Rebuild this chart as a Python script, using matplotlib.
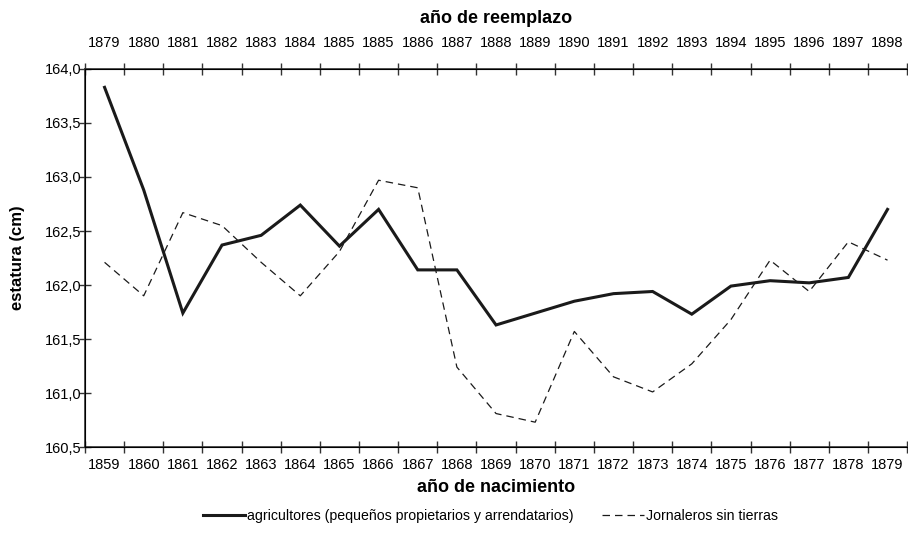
import matplotlib as mpl
import matplotlib.pyplot as plt
from matplotlib.ticker import FixedLocator, FuncFormatter

mpl.rcParams['font.family'] = ['Liberation Sans Narrow', 'Liberation Sans', 'DejaVu Sans']

birth_years = [str(y) for y in range(1859, 1880)]
draft_years = ["1879", "1880", "1881", "1882", "1883", "1884", "1885", "1885",
               "1886", "1887", "1888", "1889", "1890", "1891", "1892", "1893",
               "1894", "1895", "1896", "1897", "1898"]

agricultores = [163.83, 162.88, 161.74, 162.37, 162.46, 162.74, 162.36, 162.70,
                162.14, 162.14, 161.63, 161.74, 161.85, 161.92, 161.94, 161.73,
                161.99, 162.04, 162.02, 162.07, 162.70]
jornaleros = [162.21, 161.90, 162.67, 162.55, 162.21, 161.90, 162.31, 162.97,
              162.90, 161.24, 160.81, 160.73, 161.57, 161.15, 161.01, 161.27,
              161.68, 162.23, 161.94, 162.40, 162.23]

fig = plt.figure(figsize=(9.08, 5.51), dpi=100)
ax = fig.add_axes([0.0936, 0.1887, 0.9054, 0.6861])

x = list(range(len(birth_years)))
ax.plot(x, agricultores, color='#1a1a1a', lw=2.2, solid_joinstyle='miter',
        label='agricultores (pequeños propietarios y arrendatarios)')
ax.plot(x, jornaleros, color='#1a1a1a', lw=0.9, dashes=(6, 4),
        label='Jornaleros sin tierras')

ax.set_xlim(-0.5, len(x) - 0.5)
ax.set_ylim(160.5, 164.0)

bounds = [i - 0.5 for i in range(len(x) + 1)]
ax.spines['right'].set_visible(False)
for s in ['left', 'top', 'bottom']:
    ax.spines[s].set_linewidth(1.2)
    ax.spines[s].set_color('#333333')

ax.xaxis.set_major_locator(FixedLocator(bounds))
ax.xaxis.set_major_formatter(FuncFormatter(lambda v, p: ''))
ax.set_xticks(x, birth_years, minor=True)
ax.tick_params(axis='x', which='major', direction='inout', length=9, width=1, color='#333333')
ax.tick_params(axis='x', which='minor', length=0, labelsize=10.5, pad=8)

ax.set_yticks([160.5 + 0.5 * i for i in range(8)])
ax.yaxis.set_major_formatter(FuncFormatter(lambda v, p: f"{v:.1f}".replace('.', ',')))
ax.tick_params(axis='y', direction='inout', length=9, width=1, color='#333333', labelsize=10.5, pad=-2)

ax.set_xlabel('año de nacimiento', fontsize=13, fontweight='bold', labelpad=5)
ax.set_ylabel('estatura (cm)', fontsize=12, fontweight='bold')
ax.yaxis.set_label_coords(-0.073, 0.5)

top = ax.twiny()
top.set_xlim(ax.get_xlim())
top.spines['right'].set_visible(False)
top.xaxis.set_major_locator(FixedLocator(bounds))
top.xaxis.set_major_formatter(FuncFormatter(lambda v, p: ''))
top.set_xticks(x, draft_years, minor=True)
top.tick_params(axis='x', which='minor', length=0, labelsize=10.5, pad=14)
top.tick_params(axis='x', which='major', direction='inout', length=9, width=1, color='#333333')
top.set_xlabel('año de reemplazo', fontsize=13, fontweight='bold', labelpad=9)

fig.legend(loc='center', bbox_to_anchor=(0.54, 0.063), ncol=2, frameon=False,
           fontsize=10.2, handlelength=3, columnspacing=2, handletextpad=0.1)

plt.savefig("out.png", dpi=100)
